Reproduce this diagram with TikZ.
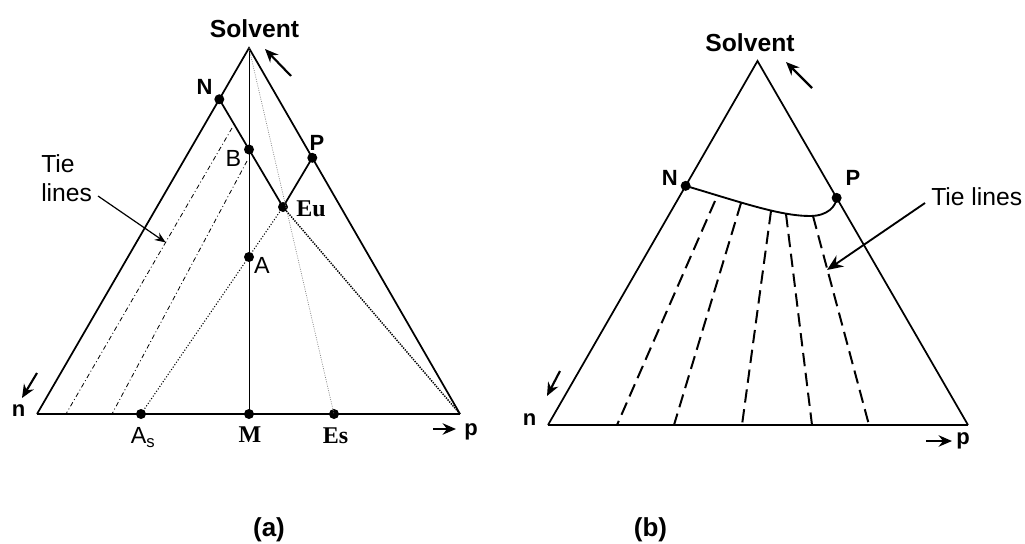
\documentclass[tikz,border=0pt]{standalone}
\usepackage{fontspec}
\setmainfont{Liberation Sans}
\newfontfamily\tnr{Liberation Serif}
\usetikzlibrary{arrows.meta,calc}
\begin{document}
\begin{tikzpicture}[x=0.75pt,y=-0.75pt,
  side/.style={line width=1.3pt},
  baseline/.style={line width=1.7pt},
  dot/.style={circle,fill=black,inner sep=0pt,minimum size=7.5pt},
  lbl/.style={inner sep=0pt,anchor=base},
  big/.style={font=\fontsize{18.5}{20}\selectfont\bfseries},
  bold16/.style={font=\fontsize{16.5}{18}\selectfont\bfseries},
  reg/.style={font=\fontsize{17.5}{19}\selectfont},
  serifb/.style={font=\fontsize{18}{19}\selectfont\tnr\bfseries},
  ptr/.style={line width=1.6pt,-{Stealth[length=10pt,width=8.5pt]}},
  thinptr/.style={line width=0.9pt,-{Stealth[length=8pt,width=6.5pt]}},
  tiedd/.style={line width=0.6pt,dash pattern=on 3.5pt off 2pt on 0.7pt off 2pt},
  tiedash/.style={line width=1.5pt,dash pattern=on 10pt off 5pt},
  ]
\useasboundingbox (0,0) rectangle (1025,543);

% ---------------- (a) ----------------
\coordinate (S1) at (249,48);
\coordinate (n1) at (37,414);
\coordinate (p1) at (460,414);
\draw[side] (n1) -- (S1) -- (p1);
\draw[baseline] (n1) -- (p1);

\node[dot] (N1) at ($(S1)!0.14!(n1)$) {};
\node[dot] (P1) at ($(S1)!0.3!(p1)$) {};
\node[dot] (Eu1) at (283,207) {};
\node[dot] (B1) at (249,149.5) {};
\node[dot] (A1) at (249,257) {};
\node[dot] (As1) at (141,414) {};
\node[dot] (M1) at (249,414) {};
\node[dot] (Es1) at (334,414) {};

\draw[line width=1.3pt] (N1.center) -- (Eu1.center) -- (P1.center);
\draw[line width=0.6pt] (S1) -- (M1.center);
\draw[gray,line width=0.5pt,dash pattern=on 0.7pt off 1pt] (S1) -- (Es1.center);
\draw[line width=0.8pt,dash pattern=on 0.8pt off 1.4pt] (Eu1.center) -- (As1.center);
\draw[line width=1.1pt,dash pattern=on 1pt off 0.9pt] (Eu1.center) -- (p1);

\coordinate (t1a) at (232,128);
\coordinate (t1b) at (66,414);
\coordinate (t2a) at (247,161);
\coordinate (t2b) at (112,414);
\draw[tiedd] (t1a) -- (t1b);
\draw[tiedd] (t2a) -- (t2b);

\node[lbl,big] (solA) at (254.5,37) {Solvent};
\node[lbl,bold16] (NA) at (204.5,94) {N};
\node[lbl,bold16] (PA) at (317,150.7) {P};
\node[lbl,reg] (BA) at (233.5,166.5) {B};
\node[lbl,reg] (AA) at (262,273.5) {A};
\node[lbl,serifb] (EuA) at (311,216) {Eu};
\node[lbl,serifb] (MA) at (250,442.7) {M};
\node[lbl,serifb] (EsA) at (335.5,443) {Es};
\node[lbl,reg,anchor=base west] (AsA) at (130.5,443) {A\raisebox{-3.5pt}{\fontsize{12.5}{12}\selectfont s}};
\node[lbl,bold16] (nA) at (18.5,416.7) {n};
\node[lbl,bold16] (pA) at (471,435.5) {p};
\node[lbl,font=\fontsize{18.5}{20}\selectfont,anchor=base west] (tieA1) at (41,172.7) {Tie};
\node[lbl,font=\fontsize{18.5}{20}\selectfont,anchor=base west] (tieA2) at (41,201.7) {lines};

\coordinate (sa1) at (291,76);
\coordinate (sa2) at (265,49);
\draw[ptr] (sa1) -- (sa2);
\coordinate (na1) at (37,373);
\coordinate (na2) at (22,398);
\draw[ptr] (na1) -- (na2);
\coordinate (pa1) at (433,429);
\coordinate (pa2) at (456,429);
\draw[ptr] (pa1) -- (pa2);
\coordinate (ta1) at (98,196);
\draw[thinptr] (ta1) -- ($(t1a)!0.4!(t1b)$);

% ---------------- (b) ----------------
\coordinate (S2) at (757.5,61);
\coordinate (n2) at (548,425);
\coordinate (p2) at (968,425);
\draw[side] (n2) -- (S2) -- (p2);
\draw[baseline] (n2) -- (p2);

\node[dot] (N2) at ($(S2)!0.343!(n2)$) {};
\node[dot] (P2) at ($(S2)!0.376!(p2)$) {};
\draw[line width=1.4pt] (N2.center) .. controls (740,202) and (780,216) .. (810,216)
  .. controls (828,216) and (836,206) .. (P2.center);

\coordinate (u1) at (715,201);
\coordinate (d1) at (617,425);
\coordinate (u2) at (741,203);
\coordinate (d2) at (674,425);
\coordinate (u3) at (771,211);
\coordinate (d3) at (742,425);
\coordinate (u4) at (786,214);
\coordinate (d4) at (812,425);
\coordinate (u5) at (813,216);
\coordinate (d5) at (869,425);
\foreach \i in {1,...,5} {\draw[tiedash] (u\i) -- (d\i);}

\node[lbl,big] (solB) at (750,51.7) {Solvent};
\node[lbl,bold16] (NB) at (669.7,185.7) {N};
\node[lbl,bold16] (PB) at (853,185.7) {P};
\node[lbl,bold16] (nB) at (529.5,425) {n};
\node[lbl,bold16] (pB) at (963,444.5) {p};
\node[lbl,font=\fontsize{18.5}{20}\selectfont,anchor=base west] (tieB) at (931,205.7) {Tie lines};

\coordinate (sb1) at (812,88);
\coordinate (sb2) at (786,62);
\draw[ptr] (sb1) -- (sb2);
\coordinate (nb1) at (560,371);
\coordinate (nb2) at (547,396);
\draw[ptr] (nb1) -- (nb2);
\coordinate (pb1) at (926,441);
\coordinate (pb2) at (952,441);
\draw[ptr] (pb1) -- (pb2);
\coordinate (tb1) at (925,203);
\coordinate (tb2) at (827,270);
\draw[line width=1.4pt,-{Stealth[length=12pt,width=10pt]}] (tb1) -- (tb2);

% ---------------- captions ----------------
\node[lbl,font=\fontsize{19.5}{21}\selectfont\bfseries] (capA) at (269,536) {(a)};
\node[lbl,font=\fontsize{19.5}{21}\selectfont\bfseries] (capB) at (650.5,536) {(b)};
\end{tikzpicture}
\end{document}
